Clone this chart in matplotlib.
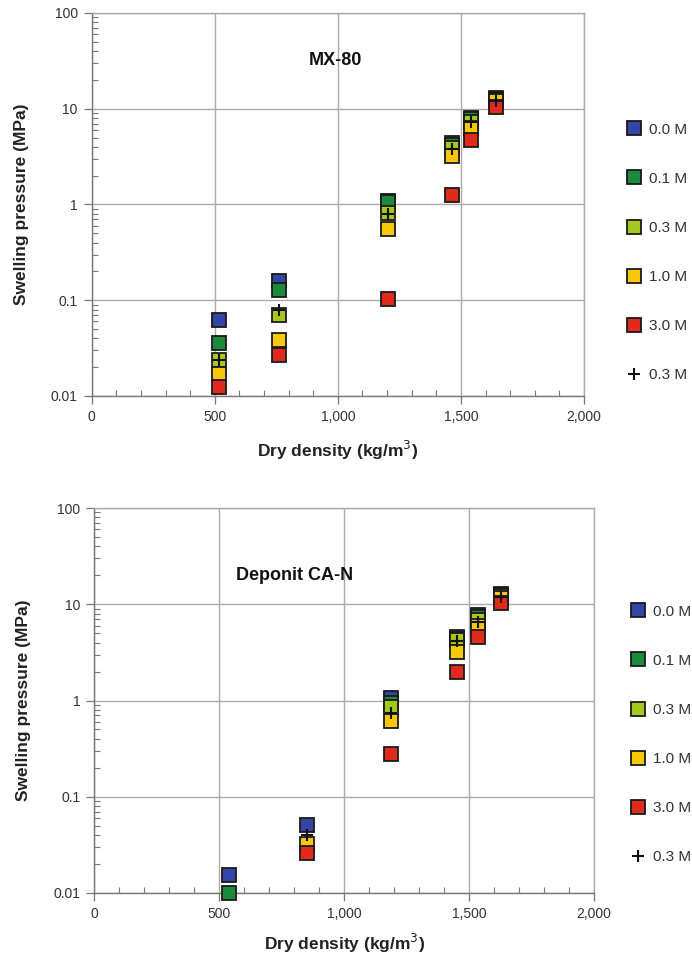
import numpy as np
import matplotlib
matplotlib.use("Agg")
import matplotlib.pyplot as plt
from matplotlib.lines import Line2D
from matplotlib.ticker import FixedLocator, LogLocator, NullFormatter, FixedFormatter

plt.rcParams['font.family'] = ['Liberation Sans', 'DejaVu Sans']

series_labels = ["0.0 M", "0.1 M", "0.3 M", "1.0 M", "3.0 M"]
plus_label = "0.3 M"
colors = ["#3346a6", "#1c8a3c", "#a6c81c", "#f7c80a", "#e02a1e"]

# MX-80 panel
mx80_x = [517, 761, 1203, 1464, 1540, 1642]
mx80_00 = [0.062, 0.16, 1.10, 4.4, 8.0, 12.8]
mx80_01 = [0.036, 0.128, 1.06, 4.2, 7.8, 12.5]
mx80_03 = [0.024, 0.070, 0.81, 3.9, 7.3, 12.3]
mx80_10 = [0.017, 0.038, 0.56, 3.2, 6.3, 12.0]
mx80_30 = [0.0124, 0.027, 0.102, 1.25, 4.7, 10.5]
mx80_plus = [0.024, 0.080, 0.80, 3.8, 7.2, 12.0]

# Deponit CA-N panel
dep_x = [540, 850, 1187, 1450, 1537, 1626]
dep_00 = [0.0154, 0.051, 1.06, 4.6, 7.7, 12.9]
dep_01 = [0.010, np.nan, 0.95, 4.4, 7.4, 12.6]
dep_03 = [np.nan, np.nan, 0.85, 4.3, 6.9, 12.3]
dep_10 = [np.nan, 0.032, 0.61, 3.2, 5.9, 11.6]
dep_30 = [np.nan, 0.026, 0.28, 1.99, 4.6, 10.3]
dep_plus = [np.nan, 0.040, 0.74, 4.2, 6.6, 11.8]

x_ticks = [0, 500, 1000, 1500, 2000]
x_ticklabels = ["0", "500", "1,000", "1,500", "2,000"]
y_ticks = [0.01, 0.1, 1, 10, 100]
y_ticklabels = ["0.01", "0.1", "1", "10", "100"]

W, H = 692, 959
fig = plt.figure(figsize=(W / 100, H / 100), dpi=100)

grid_col = "#b3a6a6"
axis_col = "#777777"
text_col = "#333333"


def make_panel(rect, xs, series, plus, title, title_xy, legend_xy, xlabelpad):
    ax = fig.add_axes(rect)
    ax.set_yscale("log")
    ax.set_xlim(0, 2000)
    ax.set_ylim(0.01, 100)
    ax.xaxis.set_major_locator(FixedLocator(x_ticks))
    ax.xaxis.set_major_formatter(FixedFormatter(x_ticklabels))
    ax.xaxis.set_minor_locator(FixedLocator(np.arange(0, 2001, 100)))
    ax.yaxis.set_major_locator(FixedLocator(y_ticks))
    ax.yaxis.set_major_formatter(FixedFormatter(y_ticklabels))
    ax.yaxis.set_minor_locator(LogLocator(base=10, subs=np.arange(2, 10), numticks=20))
    ax.yaxis.set_minor_formatter(NullFormatter())
    ax.grid(True, which="major", color=grid_col, linewidth=1.0)
    ax.set_axisbelow(True)
    for s in ["top", "right"]:
        ax.spines[s].set_color(grid_col)
        ax.spines[s].set_linewidth(1.0)
    for s in ["left", "bottom"]:
        ax.spines[s].set_color(axis_col)
        ax.spines[s].set_linewidth(1.0)
    ax.tick_params(which="major", direction="out", length=6, color=axis_col,
                   labelsize=10, labelcolor=text_col, width=0.9)
    ax.tick_params(which="minor", direction="in", length=4, color=axis_col, width=0.8)
    ax.tick_params(axis="x", which="major", pad=4)
    ax.tick_params(axis="y", which="major", pad=4)

    for vals, c in zip(series, colors):
        ax.plot(xs, vals, linestyle="none", marker="s", markersize=10.5,
                markerfacecolor=c, markeredgecolor="#1a1a1a", markeredgewidth=1.3,
                clip_on=False, zorder=3)
    ax.plot(xs, plus, linestyle="none", marker="+", markersize=9,
            markeredgecolor="#111111", markeredgewidth=1.5, clip_on=False, zorder=4)

    ax.set_xlabel("Dry density (kg/m$^{3}$)", fontsize=12.5, fontweight="bold",
                  color="#222222", labelpad=xlabelpad)
    ax.set_ylabel("Swelling pressure (MPa)", fontsize=12.5, fontweight="bold",
                  color="#222222", labelpad=16)
    ax.text(title_xy[0], title_xy[1], title, fontsize=13, fontweight="bold",
            ha="center", va="center", color="#111111")

    handles = [Line2D([], [], linestyle="none", marker="s", markersize=10.5,
                      markerfacecolor=c, markeredgecolor="#1a1a1a", markeredgewidth=1.3)
               for c in colors]
    handles.append(Line2D([], [], linestyle="none", marker="+", markersize=9,
                          markeredgecolor="#111111", markeredgewidth=1.5))
    labels = series_labels + [plus_label]
    fig.legend(handles, labels, loc="upper left", bbox_to_anchor=legend_xy,
               bbox_transform=fig.transFigure, frameon=False, fontsize=11,
               labelspacing=2.3, handlelength=1.0, handletextpad=0.45,
               borderpad=0, labelcolor=text_col)
    return ax


make_panel([91.7 / W, 1 - 396 / H, (584 - 91.7) / W, (396 - 13) / H],
           mx80_x, [mx80_00, mx80_01, mx80_03, mx80_10, mx80_30], mx80_plus,
           "MX-80", (990, 31.6), (619 / W, 1 - 115 / H), 11)
make_panel([94.3 / W, 1 - 893 / H, (594 - 94.3) / W, (893 - 508) / H],
           dep_x, [dep_00, dep_01, dep_03, dep_10, dep_30], dep_plus,
           "Deponit CA-N", (803, 20), (623 / W, 1 - 597 / H), 8)

fig.savefig("out.png", dpi=100)
